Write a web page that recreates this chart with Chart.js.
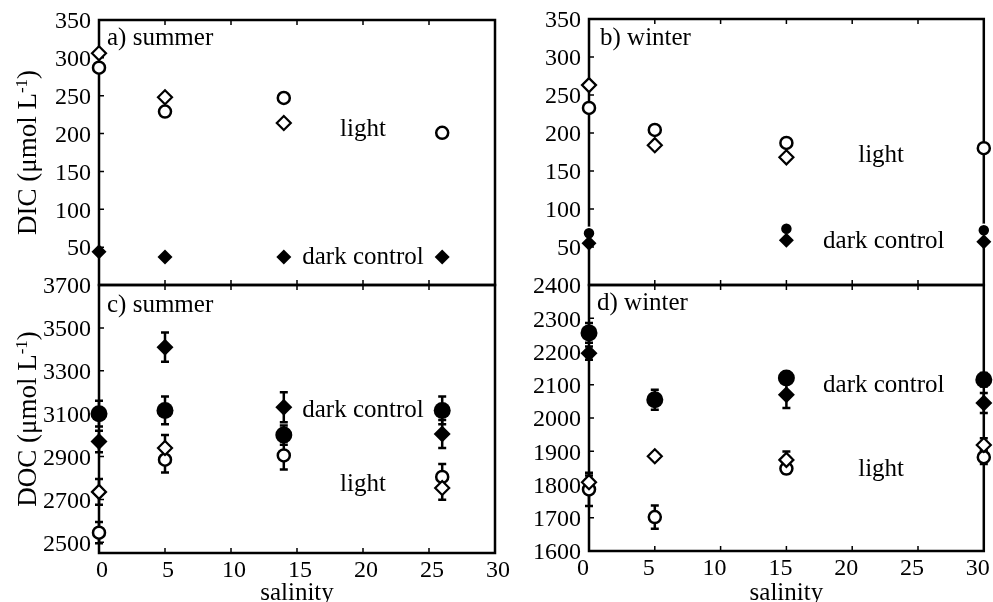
<!DOCTYPE html>
<html>
<head>
<meta charset="utf-8">
<script src="https://cdn.jsdelivr.net/npm/chart.js@4.4.0/dist/chart.umd.min.js"></script>
<style>
  body { margin: 0; background: #fff; }
  #wrap { position: relative; width: 993px; height: 602px; overflow: hidden; }
  #wrap canvas { position: absolute; left: 0; top: 0; }
</style>
</head>
<body>
<div id="wrap">
  <canvas id="panelA" width="993" height="602"></canvas>
  <canvas id="panelB" width="993" height="602"></canvas>
  <canvas id="panelC" width="993" height="602"></canvas>
  <canvas id="panelD" width="993" height="602"></canvas>
</div>
<script>
// salinity of the stations
const salinitySummer = [0, 5, 14, 26];
const salinityWinter = [0, 5, 15, 30];
const xTicks = [0, 5, 10, 15, 20, 25, 30];

// a) DIC, summer
const dicSummerLightDiamond = [306, 248, 214, null];
const dicSummerLightCircle = [287, 229, 247, 201];
const dicSummerDarkDiamond = [44, 37, 37, 37];

// b) DIC, winter
const dicWinterLightDiamond = [263, 184, 168, null];
const dicWinterLightCircle = [233, 204, 187, 180];
const dicWinterDarkDiamond = [55, null, 59, 57];
const dicWinterDarkCircle = [68, null, 74, 72];
const dicTicks = [50, 100, 150, 200, 250, 300, 350];

// c) DOC, summer (value and +/- error)
const docSummerDarkDiamond = [2970, 3410, 3130, 3005];
const docSummerDarkDiamondErr = [50, 68, 70, 65];
const docSummerDarkCircle = [3100, 3115, 3000, 3115];
const docSummerDarkCircleErr = [60, 65, 45, 65];
const docSummerLightDiamond = [2735, 2940, null, 2753];
const docSummerLightDiamondErr = [60, 60, 0, 55];
const docSummerLightCircle = [2545, 2885, 2905, 2805];
const docSummerLightCircleErr = [50, 60, 65, 60];
const docSummerTicks = [2500, 2700, 2900, 3100, 3300, 3500, 3700];

// d) DOC, winter (value and +/- error)
const docWinterDarkDiamond = [2195, null, 2070, 2045];
const docWinterDarkDiamondErr = [20, 0, 40, 30];
const docWinterDarkCircle = [2256, 2055, 2120, 2115];
const docWinterDarkCircleErr = [30, 30, 15, 20];
const docWinterLightDiamond = [1807, 1885, 1874, 1919];
const docWinterLightDiamondErr = [20, 10, 25, 20];
const docWinterLightCircle = [1785, 1702, 1848, 1882];
const docWinterLightCircleErr = [50, 35, 15, 20];
const docWinterTicks = [1600, 1700, 1800, 1900, 2000, 2100, 2200, 2300, 2400];

const FONT = "'Liberation Serif', 'Times New Roman', serif";

// marker looks
const openCircle = { pointStyle: 'circle', pointRadius: 6, pointBorderWidth: 2.5, pointBackgroundColor: '#fff', pointBorderColor: '#000' };
const openDiamond = { pointStyle: 'rectRot', pointRadius: 7, pointBorderWidth: 2.2, pointBackgroundColor: '#fff', pointBorderColor: '#000' };
const darkDiamond = { pointStyle: 'rectRot', pointRadius: 7.5, pointBorderWidth: 0, pointBackgroundColor: '#000', pointBorderColor: '#000' };
const darkDiamondBig = { pointStyle: 'rectRot', pointRadius: 8.5, pointBorderWidth: 0, pointBackgroundColor: '#000', pointBorderColor: '#000' };
const darkCircleBig = { pointStyle: 'circle', pointRadius: 8.5, pointBorderWidth: 0, pointBackgroundColor: '#000', pointBorderColor: '#000' };
const darkCircleSmall = { pointStyle: 'circle', pointRadius: 6, pointBorderWidth: 1.5, pointBackgroundColor: '#000', pointBorderColor: '#fff' };

function series(xs, ys, errs, look) {
  const data = [];
  xs.forEach((x, i) => {
    if (ys[i] == null) return;
    data.push({ x: x, y: ys[i], e: errs ? errs[i] : 0 });
  });
  return Object.assign({ data: data, showLine: false, clip: false, pointHoverRadius: 0 }, look);
}

// error bars under the markers
const errorBars = {
  id: 'errorBars',
  beforeDatasetsDraw(chart) {
    const { ctx } = chart;
    const x = chart.scales.x, y = chart.scales.y;
    ctx.save();
    ctx.strokeStyle = '#000';
    ctx.lineWidth = 2.5;
    chart.data.datasets.forEach(ds => {
      ds.data.forEach(p => {
        if (!p.e) return;
        const px = x.getPixelForValue(p.x);
        const t = y.getPixelForValue(p.y + p.e);
        const b = y.getPixelForValue(p.y - p.e);
        ctx.beginPath();
        ctx.moveTo(px, t); ctx.lineTo(px, b);
        ctx.moveTo(px - 4, t); ctx.lineTo(px + 4, t);
        ctx.moveTo(px - 4, b); ctx.lineTo(px + 4, b);
        ctx.stroke();
      });
    });
    ctx.restore();
  }
};

// box, inner ticks and the texts
const frame = {
  id: 'frame',
  beforeDatasetsDraw(chart, args, opts) {
    const { ctx, chartArea: a } = chart;
    const x = chart.scales.x, y = chart.scales.y;
    ctx.save();
    ctx.strokeStyle = '#000';
    ctx.lineWidth = 2.5;
    ctx.strokeRect(a.left, a.top, a.right - a.left, a.bottom - a.top);
    ctx.lineWidth = 1.5;
    ctx.beginPath();
    opts.yTicks.forEach(v => {
      const py = y.getPixelForValue(v);
      ctx.moveTo(a.left, py); ctx.lineTo(a.left + 5, py);
    });
    xTicks.slice(1, -1).forEach(v => {
      const px = x.getPixelForValue(v);
      ctx.moveTo(px, a.bottom); ctx.lineTo(px, a.bottom - 5);
      ctx.moveTo(px, a.top); ctx.lineTo(px, a.top + 5);
    });
    ctx.stroke();
    ctx.restore();
  },
  afterDraw(chart, args, opts) {
    const { ctx, chartArea: a } = chart;
    const x = chart.scales.x, y = chart.scales.y;
    ctx.save();
    ctx.fillStyle = '#000';
    ctx.font = '25px ' + FONT;
    ctx.textBaseline = 'middle';
    ctx.textAlign = 'left';
    ctx.fillText(opts.label, a.left + opts.labelDx, a.top + opts.labelDy);
    ctx.textAlign = 'center';
    opts.notes.forEach(n => {
      ctx.fillText(n.text, x.getPixelForValue(n.x), y.getPixelForValue(n.y));
    });
    if (opts.xTitle) {
      ctx.textBaseline = 'alphabetic';
      ctx.fillText(opts.xTitle, (a.left + a.right) / 2, 600);
    }
    if (opts.yTitle) {
      const big = '27px ' + FONT, small = '17px ' + FONT;
      ctx.font = big;
      const w1 = ctx.measureText(opts.yTitle[0]).width;
      const w3 = ctx.measureText(opts.yTitle[2]).width;
      ctx.font = small;
      const w2 = ctx.measureText(opts.yTitle[1]).width;
      const total = w1 + w2 + w3;
      ctx.translate(36, (a.top + a.bottom) / 2);
      ctx.rotate(-Math.PI / 2);
      ctx.textAlign = 'left';
      ctx.textBaseline = 'alphabetic';
      let cx = -total / 2;
      ctx.font = big;
      ctx.fillText(opts.yTitle[0], cx, 0); cx += w1;
      ctx.font = small;
      ctx.fillText(opts.yTitle[1], cx, -9); cx += w2;
      ctx.font = big;
      ctx.fillText(opts.yTitle[2], cx, 0);
    }
    ctx.restore();
  }
};

function makePanel(id, p) {
  return new Chart(document.getElementById(id), {
    type: 'scatter',
    data: { datasets: p.datasets },
    options: {
      responsive: false,
      animation: false,
      events: [],
      layout: { padding: p.padding },
      scales: {
        x: {
          type: 'linear', min: 0, max: 30,
          display: p.showX,
          grid: { display: false, drawTicks: false, tickLength: 0 },
          border: { display: false },
          afterBuildTicks: s => { s.ticks = xTicks.map(v => ({ value: v })); },
          afterFit: s => { s.height = p.showX ? 48 : 0; s.paddingLeft = 0; s.paddingRight = 0; },
          ticks: { color: '#000', padding: 3, maxRotation: 0, labelOffset: p.xLabelShift || 0,
                   callback: v => String(v), font: { family: FONT, size: 24 } }
        },
        y: {
          type: 'linear', min: p.yMin, max: p.yMax,
          grid: { display: false, drawTicks: false, tickLength: 0 },
          border: { display: false },
          afterBuildTicks: s => { s.ticks = p.yTicks.map(v => ({ value: v })); },
          afterFit: s => { s.width = 60; s.paddingTop = 0; s.paddingBottom = 0; },
          ticks: { color: '#000', padding: 8, labelOffset: 2, callback: v => String(v), font: { family: FONT, size: 24 } }
        }
      },
      plugins: {
        legend: { display: false },
        tooltip: { enabled: false },
        frame: {
          label: p.label, labelDx: p.labelDx, labelDy: p.labelDy,
          notes: p.notes, yTicks: p.yTicks, xTitle: p.xTitle, yTitle: p.yTitle
        }
      }
    },
    plugins: [frame, errorBars]
  });
}

makePanel('panelA', {
  padding: { left: 39, top: 20, right: 498, bottom: 317 },
  showX: false, yMin: 0, yMax: 350, yTicks: dicTicks,
  label: 'a) summer', labelDx: 8, labelDy: 18,
  yTitle: ['DIC (\u03bcmol L', '-1', ')'],
  notes: [{ text: 'light', x: 20, y: 205 }, { text: 'dark control', x: 20, y: 37 }],
  datasets: [
    series(salinitySummer, dicSummerDarkDiamond, null, darkDiamond),
    series(salinitySummer, dicSummerLightDiamond, null, openDiamond),
    series(salinitySummer, dicSummerLightCircle, null, openCircle)
  ]
});

makePanel('panelB', {
  padding: { left: 529, top: 19, right: 6, bottom: 317 },
  showX: false, yMin: 0, yMax: 350, yTicks: dicTicks,
  label: 'b) winter', labelDx: 11, labelDy: 19,
  notes: [{ text: 'light', x: 22.2, y: 170 }, { text: 'dark control', x: 22.4, y: 57 }],
  datasets: [
    series(salinityWinter, dicWinterDarkDiamond, null, darkDiamond),
    series(salinityWinter, dicWinterDarkCircle, null, darkCircleSmall),
    series(salinityWinter, dicWinterLightDiamond, null, openDiamond),
    series(salinityWinter, dicWinterLightCircle, null, openCircle)
  ]
});

makePanel('panelC', {
  padding: { left: 39, top: 285, right: 498, bottom: 1 },
  showX: true, xLabelShift: 3, yMin: 2450, yMax: 3700, yTicks: docSummerTicks,
  label: 'c) summer', labelDx: 8, labelDy: 20, xTitle: 'salinity',
  yTitle: ['DOC (\u03bcmol L', '-1', ')'],
  notes: [{ text: 'dark control', x: 20, y: 3117 }, { text: 'light', x: 20, y: 2772 }],
  datasets: [
    series(salinitySummer, docSummerLightDiamond, docSummerLightDiamondErr, openDiamond),
    series(salinitySummer, docSummerLightCircle, docSummerLightCircleErr, openCircle),
    series(salinitySummer, docSummerDarkDiamond, docSummerDarkDiamondErr, darkDiamondBig),
    series(salinitySummer, docSummerDarkCircle, docSummerDarkCircleErr, darkCircleBig)
  ]
});

makePanel('panelD', {
  padding: { left: 529, top: 285, right: 6, bottom: 3 },
  showX: true, xLabelShift: -6, yMin: 1600, yMax: 2400, yTicks: docWinterTicks,
  label: 'd) winter', labelDx: 8, labelDy: 18, xTitle: 'salinity',
  notes: [{ text: 'dark control', x: 22.4, y: 2099 }, { text: 'light', x: 22.2, y: 1844 }],
  datasets: [
    series(salinityWinter, docWinterLightDiamond, docWinterLightDiamondErr, openDiamond),
    series(salinityWinter, docWinterLightCircle, docWinterLightCircleErr, openCircle),
    series(salinityWinter, docWinterDarkDiamond, docWinterDarkDiamondErr, darkDiamondBig),
    series(salinityWinter, docWinterDarkCircle, docWinterDarkCircleErr, darkCircleBig)
  ]
});
</script>
</body>
</html>
